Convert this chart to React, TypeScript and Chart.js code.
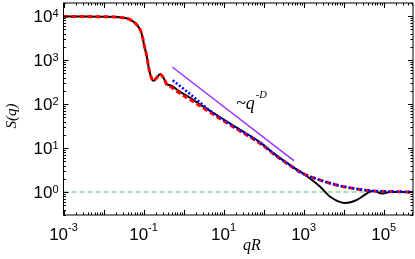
import React, { useEffect, useRef } from "react";
import { Chart, registerables } from "chart.js";

Chart.register(...registerables);

// ---- data ----
const xMin = 1e-3;
const xMax = 5.4e5;
const yMin = 0.3;
const yMax = 2e4;

const qBlack = [0.001, 0.003, 0.01, 0.02, 0.03, 0.046, 0.0613, 0.0818, 0.0955, 0.1047, 0.12, 0.132, 0.151, 0.176, 0.214, 0.259, 0.313, 0.38, 0.507, 0.818, 1.4, 2.5, 8, 25, 80, 200, 546, 990, 2585, 4600, 10900, 21400, 38000, 55600, 90000, 145000, 540000];
const sBlack = [9800, 9800, 9750, 9600, 9300, 8400, 7000, 5000, 3200, 2100, 1260, 740, 440, 340, 400, 480, 400, 290, 260, 190, 142, 100, 51, 26.6, 13.7, 7.0, 3.7, 2.6, 1.32, 0.78, 0.56, 0.66, 0.93, 1.07, 0.92, 1.0, 1.0];

const qRed = [0.001, 0.003, 0.01, 0.02, 0.03, 0.046, 0.0613, 0.0818, 0.0955, 0.1047, 0.12, 0.132, 0.151, 0.176, 0.214, 0.259, 0.313, 0.38, 0.507, 0.818, 1.4, 2.5, 8, 25, 80, 200, 546, 990, 2585, 6700, 17600, 45900, 100000, 540000];
const sRed = [9800, 9800, 9750, 9600, 9300, 8400, 7000, 5000, 3200, 2100, 1260, 740, 440, 340, 400, 480, 400, 280, 240, 175, 130, 93, 47, 24.8, 12.9, 6.8, 3.6, 2.6, 1.87, 1.44, 1.21, 1.07, 1.03, 1.0];

const qBlue = [0.537, 1.45, 4.6, 8, 25, 80, 200, 546, 990, 2585, 6700, 17600, 45900, 100000, 540000];
const sBlue = [350, 170, 71, 50, 26, 13.5, 6.9, 3.65, 2.6, 1.87, 1.44, 1.21, 1.07, 1.03, 1.0];

const qGuide = [0.52, 580];
const sGuide = [700, 5.1];

const qUnity = [xMin, xMax];
const sUnity = [1, 1];

const xMajorExps = [-3, -2, -1, 0, 1, 2, 3, 4, 5];
const xLabelExps = [-3, -1, 1, 3, 5];
const yMajorExps = [-1, 0, 1, 2, 3, 4];
const yLabelExps = [0, 1, 2, 3, 4];

const pts = (q: number[], s: number[]) => q.map((v, i) => ({ x: v, y: s[i] }));

const decorPlugin = {
  id: "decor",
  afterDatasetsDraw(chart: any) {
    const { ctx, chartArea: a, scales } = chart;
    const xs = scales.x;
    const ys = scales.y;
    ctx.save();
    ctx.strokeStyle = "#000";
    ctx.lineWidth = 1;
    ctx.strokeRect(a.left, a.top, a.right - a.left, a.bottom - a.top);
    ctx.beginPath();
    for (const e of xMajorExps) {
      for (let k = 1; k <= 9; k++) {
        const v = k * Math.pow(10, e);
        if (v < xMin || v > xMax) continue;
        const p = Math.round(xs.getPixelForValue(v)) + 0.5;
        const L = k === 1 ? 5 : 2.5;
        ctx.moveTo(p, a.bottom);
        ctx.lineTo(p, a.bottom - L);
        ctx.moveTo(p, a.top);
        ctx.lineTo(p, a.top + L);
      }
    }
    for (const e of yMajorExps) {
      for (let k = 1; k <= 9; k++) {
        const v = k * Math.pow(10, e);
        if (v < yMin || v > yMax) continue;
        const p = Math.round(ys.getPixelForValue(v)) + 0.5;
        const L = k === 1 ? 5 : 2.5;
        ctx.moveTo(a.left, p);
        ctx.lineTo(a.left + L, p);
        ctx.moveTo(a.right, p);
        ctx.lineTo(a.right - L, p);
      }
    }
    ctx.stroke();

    ctx.fillStyle = "#000";
    ctx.textBaseline = "alphabetic";
    ctx.textAlign = "left";
    const bigFont = "17px 'Liberation Sans', Arial, sans-serif";
    const smallFont = "11px 'Liberation Sans', Arial, sans-serif";
    for (const e of xLabelExps) {
      const p = xs.getPixelForValue(Math.pow(10, e));
      ctx.font = bigFont;
      const w1 = ctx.measureText("10").width;
      ctx.font = smallFont;
      const ex = String(e);
      const w2 = ctx.measureText(ex).width;
      const start = p - (w1 + w2) / 2;
      ctx.font = bigFont;
      ctx.fillText("10", start, 240);
      ctx.font = smallFont;
      ctx.fillText(ex, start + w1, 231);
    }
    for (const e of yLabelExps) {
      const p = ys.getPixelForValue(Math.pow(10, e));
      ctx.font = bigFont;
      const w1 = ctx.measureText("10").width;
      ctx.fillText("10", 33.5, p + 6);
      ctx.font = smallFont;
      ctx.fillText(String(e), 33.5 + w1, p + 0.5);
    }

    // axis titles
    ctx.font = "italic 16px 'Liberation Serif', 'Times New Roman', serif";
    ctx.textAlign = "center";
    ctx.fillText("qR", 252, 250);
    ctx.save();
    ctx.translate(15.5, 116);
    ctx.rotate(-Math.PI / 2);
    ctx.font = "italic 15px 'Liberation Serif', 'Times New Roman', serif";
    ctx.fillText("S(q)", 0, 0);
    ctx.restore();

    // annotation ~q^-D
    ctx.textAlign = "left";
    ctx.font = "italic 18px 'Liberation Serif', 'Times New Roman', serif";
    ctx.fillText("~q", 236, 108.5);
    const wq = ctx.measureText("~q").width;
    ctx.font = "italic 10.5px 'Liberation Serif', 'Times New Roman', serif";
    ctx.fillText("-D", 236 + wq + 1, 98);
    ctx.restore();
  },
};

export default function App() {
  const ref = useRef<HTMLCanvasElement | null>(null);
  useEffect(() => {
    if (!ref.current) return;
    const chart = new Chart(ref.current, {
      type: "line",
      data: {
        datasets: [
          {
            data: pts(qBlue, sBlue),
            borderColor: "#0000ff",
            borderWidth: 2.5,
            borderDash: [2, 2],
            borderCapStyle: "butt",
            cubicInterpolationMode: "monotone",
            pointRadius: 0,
          },
          {
            data: pts(qRed, sRed),
            borderColor: "#ff0000",
            borderWidth: 3,
            borderDash: [5, 3],
            borderCapStyle: "butt",
            cubicInterpolationMode: "monotone",
            pointRadius: 0,
          },
          {
            data: pts(qGuide, sGuide),
            borderColor: "#9933ff",
            borderWidth: 1.5,
            pointRadius: 0,
          },
          {
            data: pts(qBlack, sBlack),
            borderColor: "#000000",
            borderWidth: 2,
            cubicInterpolationMode: "monotone",
            pointRadius: 0,
          },
          {
            data: pts(qUnity, sUnity),
            borderColor: "#66bb66",
            borderWidth: 1.2,
            borderDash: [5, 3],
            pointRadius: 0,
          },
        ] as any,
      },
      options: {
        animation: false,
        responsive: false,
        layout: { padding: { left: 63.5, right: 2, top: 3, bottom: 44 } },
        scales: {
          x: { type: "logarithmic", min: xMin, max: xMax, display: false },
          y: { type: "logarithmic", min: yMin, max: yMax, display: false },
        },
        plugins: { legend: { display: false }, tooltip: { enabled: false } },
      },
      plugins: [decorPlugin],
    });
    return () => chart.destroy();
  }, []);
  return (
    <div style={{ position: "absolute", left: 0, top: 0, width: 415, height: 259, background: "#fff" }}>
      <canvas ref={ref} width={415} height={259} style={{ display: "block" }} />
    </div>
  );
}
